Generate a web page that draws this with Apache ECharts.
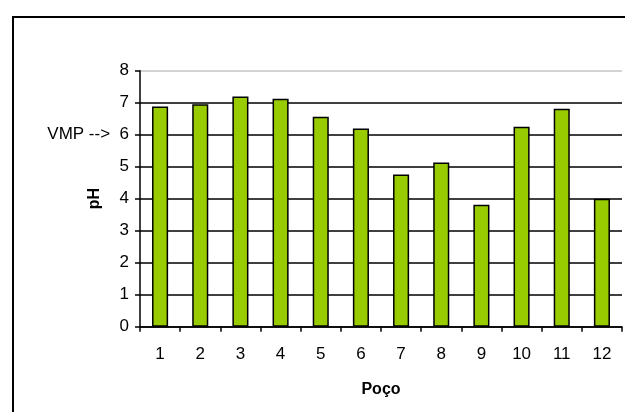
<!DOCTYPE html>
<html>
<head>
<meta charset="utf-8">
<script src="https://cdn.jsdelivr.net/npm/echarts@6/dist/echarts.min.js"></script>
<style>
  html, body { margin: 0; padding: 0; background: #fff; }
  #chart { width: 625px; height: 412px; }
</style>
</head>
<body>
<div id="chart"></div>
<script>
// Wells and measured pH values
const wells = ['1', '2', '3', '4', '5', '6', '7', '8', '9', '10', '11', '12'];
const phValues = [6.88, 6.95, 7.19, 7.12, 6.56, 6.19, 4.76, 5.13, 3.81, 6.25, 6.81, 4.0];
// pH axis range and the value flagged as the maximum permitted value (VMP)
const phMin = 0;
const phMax = 8;
const phStep = 1;
const vmpValue = 6;
const vmpTag = 'VMP -->';

const FONT = '"Liberation Sans", Arial, sans-serif';

// Last horizontal grid line is drawn lighter than the others
const gridColors = [];
for (let v = phMin; v <= phMax; v += phStep) {
  gridColors.push(v === phMax ? '#c4c4c4' : '#000');
}

const chart = echarts.init(document.getElementById('chart'), null, { renderer: 'canvas' });
chart.setOption({
  animation: false,
  backgroundColor: '#fff',
  grid: { left: 140, right: 3, top: 70.7, bottom: 85.3, containLabel: false },
  graphic: [{
    type: 'rect',
    shape: { x: 13, y: 17, width: 700, height: 500 },
    style: { fill: 'none', stroke: '#000', lineWidth: 2 },
    silent: true
  }],
  xAxis: {
    type: 'category',
    data: wells,
    name: 'Poço',
    nameLocation: 'middle',
    nameGap: 55,
    nameMoveOverlap: false,
    nameTextStyle: { fontFamily: FONT, fontSize: 16, fontWeight: 'bold', color: '#000' },
    axisLine: { lineStyle: { color: '#000', width: 1.5 } },
    axisTick: { show: true, length: 5, alignWithLabel: false, lineStyle: { color: '#000', width: 1.5 } },
    axisLabel: { fontFamily: FONT, fontSize: 17, color: '#000', margin: 19 },
    splitLine: { show: false }
  },
  yAxis: {
    type: 'value',
    min: phMin,
    max: phMax,
    interval: phStep,
    name: 'pH',
    nameLocation: 'middle',
    nameGap: 37,
    nameMoveOverlap: false,
    nameRotate: 90,
    nameTextStyle: { fontFamily: FONT, fontSize: 16, fontWeight: 'bold', color: '#000' },
    axisLine: { show: true, lineStyle: { color: '#000', width: 1.5 } },
    axisTick: { show: true, length: 5, lineStyle: { color: '#000', width: 1.5 } },
    axisLabel: {
      fontFamily: FONT, fontSize: 17, color: '#000', margin: 11,
      formatter: function (v) { return v === vmpValue ? vmpTag + '  ' + v : String(v); }
    },
    splitLine: { show: true, lineStyle: { color: gridColors, width: 1.5 } }
  },
  series: [{
    type: 'bar',
    data: phValues,
    barWidth: '40%',
    itemStyle: { color: '#99CC00', borderColor: '#000', borderWidth: 1.5 }
  }]
});
</script>
</body>
</html>
